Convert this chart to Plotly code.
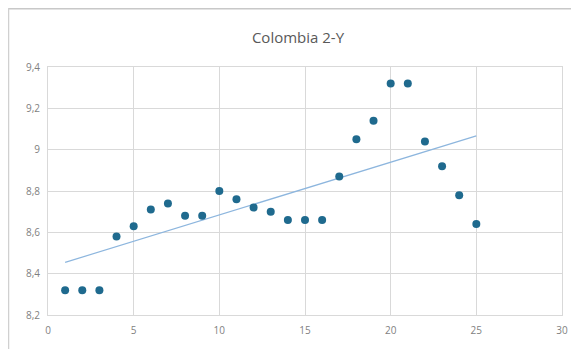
import numpy as np
import plotly.graph_objects as go

x_vals = list(range(1, 26))
y_vals = [8.32, 8.32, 8.32, 8.58, 8.63, 8.71, 8.74, 8.68, 8.68, 8.80,
          8.76, 8.72, 8.70, 8.66, 8.66, 8.66, 8.87, 9.05, 9.14, 9.32,
          9.32, 9.04, 8.92, 8.78, 8.64]
title_text = "Colombia 2-Y"
x_ticks = [0, 5, 10, 15, 20, 25, 30]
y_ticks = [8.2, 8.4, 8.6, 8.8, 9.0, 9.2, 9.4]

slope, intercept = np.polyfit(x_vals, y_vals, 1)
trend_x = [x_vals[0], x_vals[-1]]
trend_y = [slope * v + intercept for v in trend_x]

W, H = 571, 341
L, R, T, B = 40, 17, 59, 34
PW, PH = W - L - R, H - T - B

fig = go.Figure()
fig.add_trace(go.Scatter(x=trend_x, y=trend_y, mode="lines",
                         line=dict(color="#8DB6DE", width=1.2), hoverinfo="skip"))
fig.add_trace(go.Scatter(x=x_vals, y=y_vals, mode="markers",
                         marker=dict(color="#1F6A8E", size=8)))

fig.update_layout(
    width=W, height=H,
    margin=dict(l=L, r=R, t=T, b=B),
    paper_bgcolor="white", plot_bgcolor="white",
    showlegend=False,
    separators=", ",
    title=dict(text=title_text, x=290 / W, xanchor="center", y=1 - 30 / H, yanchor="middle",
               font=dict(family="Open Sans, Liberation Sans, sans-serif", size=15, color="#595959")),
    font=dict(family="Open Sans, Liberation Sans, sans-serif", size=10, color="#7F7F7F"),
)
fig.update_xaxes(range=[0, 30], tickvals=x_ticks, showgrid=True, gridcolor="#D9D9D9",
                 zeroline=False, showline=True, linecolor="#D9D9D9", mirror=True,
                 ticks="outside", ticklen=6, tickcolor="rgba(0,0,0,0)")
fig.update_yaxes(range=[8.2, 9.4], tickvals=y_ticks, showgrid=True, gridcolor="#D9D9D9",
                 zeroline=False, showline=True, linecolor="#D9D9D9", mirror=True,
                 tickformat=".1~f", ticks="outside", ticklen=5, tickcolor="rgba(0,0,0,0)")
# chart outer border (top and left edges visible)
fig.add_shape(type="line", xref="paper", yref="paper",
              x0=-L / PW, x1=1 + R / PW, y0=1 + (T - 0.5) / PH, y1=1 + (T - 0.5) / PH,
              line=dict(color="#C8C8C8", width=2))
fig.add_shape(type="line", xref="paper", yref="paper",
              x0=-(L - 0.5) / PW, x1=-(L - 0.5) / PW, y0=-B / PH, y1=1 + T / PH,
              line=dict(color="#D0D0D0", width=1.5))

fig.write_html("out.html")
